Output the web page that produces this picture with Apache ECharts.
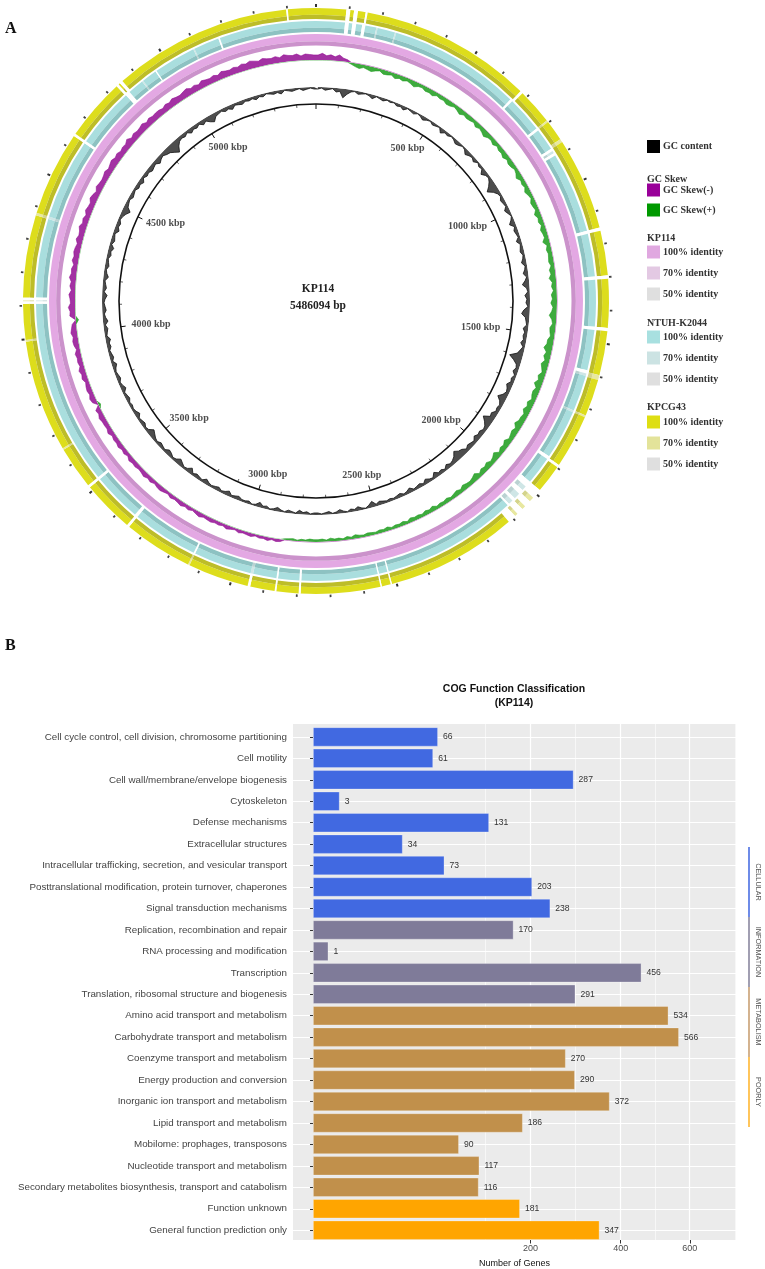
<!DOCTYPE html>
<html><head><meta charset="utf-8">
<script src="https://cdn.jsdelivr.net/npm/echarts@6/dist/echarts.min.js"></script>
<style>html,body{margin:0;padding:0;background:#fff}#c{width:765px;height:1269px}</style>
</head><body><div id="c"></div>
<script>
// ---------------- DATA ----------------
const GENOME = 5486094;
const genomeName = 'KP114';
const genomeLabel = '5486094 bp';
const kbpLabels = [500, 1000, 1500, 2000, 2500, 3000, 3500, 4000, 4500, 5000];

// GC content deviation per 1-degree window (negative = drawn inward)
const gcContent = [
 -2,-1,-3,-2,-1,-4,-3,-9,-5,-2,-1,-3,-2,-1,-2,-4,-1,-2,-3,-1,
 -2,-1,-3,-2,-4,-1,-2,-3,-1,-2,-4,-2,-1,-3,-2,-1,-5,-2,-3,-1,
 -2,-4,-3,-1,-2,-5,-3,-2,-4,-1,-3,-2,-6,-3,-2,-4,-7,-11,-6,-3,
 -2,-4,-3,-2,-5,-3,-1,-3,-6,-2,-4,-3,-2,-5,-2,-3,-4,-2,-3,-5,
 -2,-3,-5,-2,-4,-7,-3,-2,-5,-3,-4,-2,-6,-8,-4,-3,-2,-5,-3,-4,
 -3,-5,-2,-4,-6,-13,-8,-4,-3,-5,-2,-4,-3,-6,-4,-3,-5,-9,-5,-3,
 -4,-3,-6,-5,-11,-7,-4,-3,-5,-4,-6,-3,-4,-5,-3,-6,-7,-10,-6,-4,
 -3,-5,-2,-4,-3,-6,-2,-3,-5,-2,-4,-3,-2,-5,-3,-2,-4,-3,-2,-3,
 -2,-3,-4,-2,-6,-3,-1,-2,-4,-2,-3,-1,-2,-4,-2,-1,-3,-2,-1,-2,
 -2,-1,-3,-2,-4,-1,-2,-3,-1,-2,-4,-2,-1,-3,-2,-5,-2,-1,-3,-2,
 -2,-4,-3,-2,-5,-3,-2,-4,-3,-2,-3,-5,-2,-3,-4,-2,-6,-3,-2,-4,
 -6,-3,-2,-4,-5,-2,-3,-4,-2,-3,-5,-7,-3,-2,-4,-3,-2,-5,-3,-2,
 -3,-2,-4,-3,-2,-5,-3,-2,-4,-3,-2,-3,-5,-2,-4,-3,-2,-4,-3,-5,
 -2,-3,-4,-2,-5,-3,-2,-4,-3,-2,-3,-5,-2,-4,-3,-2,-5,-3,-2,-4,
 -3,-2,-4,-3,-5,-2,-4,-3,-2,-5,-3,-4,-2,-3,-5,-8,-4,-3,-2,-4,
 -3,-2,-4,-3,-5,-2,-4,-3,-5,-4,-3,-6,-4,-3,-5,-6,-9,-12,-7,-4,
 -3,-4,-2,-5,-3,-4,-2,-5,-3,-6,-8,-4,-3,-2,-4,-3,-5,-2,-3,-4,
 -2,-3,-2,-4,-2,-3,-1,-2,-3,-2,-4,-1,-2,-3,-2,-1,-3,-2,-1,-2
];
// GC skew (x100) per 1-degree window (+ green, - purple)
const gcSkew = [
 -9,-12,-8,-10,-7,-11,-6,-4,
 3,6,8,5,7,9,6,4,8,7,5,9,
 6,8,5,7,10,6,5,8,7,9,5,7,6,9,8,5,7,10,6,8,
 7,5,9,6,8,11,7,6,9,5,8,7,10,6,9,8,5,7,11,6,
 8,6,10,7,5,9,8,6,11,7,9,6,10,8,7,12,6,9,7,8,
 9,6,10,8,12,7,9,6,10,8,11,7,9,13,8,6,10,9,7,11,
 11,15,9,12,8,13,10,7,12,9,14,8,11,10,7,12,9,13,8,10,
 10,14,8,11,9,7,12,8,10,6,13,9,7,11,8,10,6,12,9,7,
 8,10,6,9,7,5,8,6,7,5,9,6,8,5,7,6,8,4,7,5,
 6,4,7,5,6,4,5,6,4,5,7,4,6,3,5,4,6,3,5,4,
 4,5,3,4,2,4,3,2,
 -4,-5,-3,-6,-4,-5,-3,-6,-5,-4,-6,-3,
 -5,-7,-4,-6,-5,-7,-6,-5,-8,-6,-4,-7,-5,-8,-6,-5,-7,-4,-6,-8,
 -7,-5,-8,-6,-9,-7,-6,-8,-7,-9,-5,-8,-6,-9,-7,-8,-6,-10,-7,-8,
 -8,-10,-7,-9,4,-8,-10,-7,-9,-8,-6,-10,-8,-11,-7,-9,-8,-10,-6,-9,
 -10,-8,-11,-9,-7,5,-10,-9,-12,-8,-9,-11,-7,-10,-8,-12,-9,-10,-7,-11,
 -9,-11,-10,-8,-12,-9,-10,-13,-9,-11,-8,-12,-10,-9,-13,-11,-8,-12,-10,-9,
 -10,-12,-9,-11,-13,-10,-12,-9,-11,-10,-14,-9,-12,-10,-11,-13,-9,-12,-10,-11,
 -11,-9,-12,-10,-13,-11,-10,-12,-14,-10,-12,-9,-13,-11,-10,-12,-9,-13,-11,-10,
 -12,-10,-13,-11,-14,-12,-10,-13,-11,-10,-12,-9,-13,-11,-10,-12,-8,-11,-10,-9
];
// BLAST ring gaps: [start kbp, length kbp, identity level (0 = no hit, 70 = partial)]
const kp114Gaps = [];
const ntuhGaps = [
 [91,12,0],[114,12,0],[145,10,0],[190,4,70],[250,4,70],[670,8,0],[792,8,0],
 [870,8,0],[878,8,70],[886,8,0],[1150,10,0],[1295,10,0],[1452,10,0],[1590,10,0],[1600,8,70],
 [1722,6,70],[1885,10,0],[1984,20,0],[2004,15,70],[2019,15,0],[2034,20,70],[2054,10,0],
 [2064,15,70],[2079,6,0],[2514,4,0],[2545,4,0],[2789,6,0],[2862,5,0],[2941,8,70],
 [3133,5,0],[3347,10,0],[3513,8,0],[4106,8,0],[4114,3,70],[4117,9,0],[4374,8,70],
 [4637,8,0],[4835,15,0],[4901,4,70],[4953,4,0],[5090,4,70],[5175,5,0]
];
const kpcg43Gaps = [
 [91,12,0],[114,12,0],[149,6,0],[675,8,0],[792,6,70],[861,10,70],[1150,10,0],
 [1295,10,0],[1452,10,0],[1595,15,70],[1722,6,70],[1890,8,0],[1984,30,0],[2014,15,70],
 [2029,20,0],[2049,12,70],[2061,20,0],[2081,10,70],[2091,25,0],[2514,4,0],[2545,4,0],
 [2789,6,0],[2862,5,0],[2941,8,0],[3133,5,70],[3347,8,0],[3513,8,0],[3650,5,70],
 [3993,5,70],[4106,8,0],[4114,3,70],[4117,8,0],[4374,8,70],[4637,8,0],[4833,8,0],
 [4846,10,0],[5397,5,0]
];

// COG panel
const cogCategories = [
 'Cell cycle control, cell division, chromosome partitioning','Cell motility',
 'Cell wall/membrane/envelope biogenesis','Cytoskeleton','Defense mechanisms',
 'Extracellular structures','Intracellular trafficking, secretion, and vesicular transport',
 'Posttranslational modification, protein turnover, chaperones','Signal transduction mechanisms',
 'Replication, recombination and repair','RNA processing and modification','Transcription',
 'Translation, ribosomal structure and biogenesis','Amino acid transport and metabolism',
 'Carbohydrate transport and metabolism','Coenzyme transport and metabolism',
 'Energy production and conversion','Inorganic ion transport and metabolism',
 'Lipid transport and metabolism','Mobilome: prophages, transposons',
 'Nucleotide transport and metabolism','Secondary metabolites biosynthesis, transport and catabolism',
 'Function unknown','General function prediction only'
];
const cogCounts = [66,61,287,3,131,34,73,203,238,170,1,456,291,534,566,270,290,372,186,90,117,116,181,347];
const cogGroups = ['CELLULAR','CELLULAR','CELLULAR','CELLULAR','CELLULAR','CELLULAR','CELLULAR','CELLULAR','CELLULAR',
 'INFORMATION','INFORMATION','INFORMATION','INFORMATION',
 'METABOLISM','METABOLISM','METABOLISM','METABOLISM','METABOLISM','METABOLISM','METABOLISM','METABOLISM','METABOLISM',
 'POORLY','POORLY'];
const groupNames = ['CELLULAR','INFORMATION','METABOLISM','POORLY'];
const xTickValues = [200, 400, 600];

// ---------------- STYLE ----------------
const groupColors = {CELLULAR:'#4169E1', INFORMATION:'#7F7B99', METABOLISM:'#C1904B', POORLY:'#FFA500'};
const stripColors = {CELLULAR:'#4A6FE3', INFORMATION:'#8A879F', METABOLISM:'#C9A074', POORLY:'#FFB733'};
const ringStyles = {
  kp114: {main:'#E3A8E3', dark:'#CB92CB', light:'#E6CCE6', lightDark:'#D4BAD4'},
  ntuh:  {main:'#A9DEDE', dark:'#8DC2C2', light:'#CFE6E6', lightDark:'#BAD2D2'},
  kpcg:  {main:'#DDDD1C', dark:'#BDBD28', light:'#E8E8A0', lightDark:'#D4D48C'}
};
const C = [316, 301];
const serif = '"Liberation Serif", "DejaVu Serif", serif';
const sans = '"Liberation Sans", Arial, sans-serif';

function ringData(gaps, full, light) {
  const g = gaps.slice().sort((a, b) => a[0] - b[0]);
  const out = []; let cur = 0;
  for (const [s, len, lvl] of g) {
    const sb = s * 1000, eb = (s + len) * 1000;
    if (sb > cur) out.push({value: sb - cur, itemStyle: {color: full}});
    out.push({value: eb - Math.max(sb, cur), itemStyle: {color: lvl === 70 ? light : '#ffffff'}});
    cur = eb;
  }
  if (cur < GENOME) out.push({value: GENOME - cur, itemStyle: {color: full}});
  return out;
}
const pieBase = {type:'pie', center:C, startAngle:90, clockwise:true, silent:true, animation:false,
  avoidLabelOverlap:false, minAngle:0, label:{show:false}, labelLine:{show:false},
  emphasis:{disabled:true}, selectedMode:false, itemStyle:{borderWidth:0}};
function ringSeries(gaps, r0, r1, st) {
  const mid = r0 + (r1 - r0) * 0.38;
  return [
    Object.assign({}, pieBase, {radius:[mid, r1], data: ringData(gaps, st.main, st.light)}),
    Object.assign({}, pieBase, {radius:[r0, mid], data: ringData(gaps, st.dark, st.lightDark)})
  ];
}

// label placement measure
const mctx = document.createElement('canvas').getContext('2d');
mctx.font = 'bold 10px ' + serif;
const kbpLabelData = kbpLabels.map(k => {
  const txt = k + ' kbp';
  const w = mctx.measureText(txt).width, h = 10;
  const th = k * 1000 / GENOME * 2 * Math.PI;
  return {name: txt, value: [186, k * 1000],
    label: {offset: [-0.5 * Math.sin(th) * w, 0.5 * Math.cos(th) * h]}};
});

// window series: magnitude away from the ring baseline
function windowSeries(arr, pick) {
  const step = GENOME / arr.length;
  const pts = arr.map((v, i) => [pick(v), (i + 0.5) * step]);
  pts.push([pts[0][0], GENOME + 0.5 * step]);
  return pts;
}
const gcData  = windowSeries(gcContent, v => -v);            // inward
const skewNeg = windowSeries(gcSkew, v => v < 0 ? -v : 0);    // outward purple
const skewPos = windowSeries(gcSkew, v => v > 0 ? v : 0);     // inward green

// sqrt axis helpers for COG panel
const sq = v => Math.sqrt(v);
const majors = xTickValues.map(sq);
const d0 = majors[1] - majors[0];
const ext = [majors[0] - d0].concat(majors, [majors[majors.length - 1] + d0]);
const minors = [];
for (let i = 0; i < ext.length - 1; i++) minors.push((ext[i] + ext[i + 1]) / 2);
const XMIN = -1.3, XMAX = 27.5;

// ---------------- GRAPHICS (labels / legends) ----------------
const graphics = [];
graphics.push({type:'text', left:5, top:21, style:{text:'A', font:'bold 16px ' + serif, fill:'#111'}});
graphics.push({type:'text', left:5, top:638, style:{text:'B', font:'bold 16px ' + serif, fill:'#111'}});
graphics.push({type:'text', x:318, y:289, style:{text:genomeName, font:'bold 11.5px ' + serif, fill:'#222', textAlign:'center', textVerticalAlign:'middle'}});
graphics.push({type:'text', x:318, y:306, style:{text:genomeLabel, font:'bold 11.5px ' + serif, fill:'#222', textAlign:'center', textVerticalAlign:'middle'}});
const legendRows = [
  ['item','GC content','#000000',146.5],
  ['head','GC Skew',null,179],
  ['item','GC Skew(-)','#990099',190],
  ['item','GC Skew(+)','#009900',210],
  ['head','KP114',null,238],
  ['item','100% identity','#E0A8E0',252],
  ['item','70% identity','#E3C9E3',273],
  ['item','50% identity','#DFDFDF',294],
  ['head','NTUH-K2044',null,323],
  ['item','100% identity','#A8E0E0',337],
  ['item','70% identity','#CCE3E3',358],
  ['item','50% identity','#DFDFDF',379],
  ['head','KPCG43',null,407],
  ['item','100% identity','#DEDE12',422],
  ['item','70% identity','#E3E39A',443],
  ['item','50% identity','#DFDFDF',464]
];
legendRows.forEach(([t, txt, col, y]) => {
  if (t === 'item') {
    graphics.push({type:'rect', shape:{x:647, y:y - 6.5, width:13, height:13}, style:{fill:col}});
    graphics.push({type:'text', x:663, y:y, style:{text:txt, font:'bold 10px ' + serif, fill:'#333', textVerticalAlign:'middle'}});
  } else {
    graphics.push({type:'text', x:647, y:y, style:{text:txt, font:'bold 10px ' + serif, fill:'#333', textVerticalAlign:'middle'}});
  }
});
graphics.push({type:'text', x:514, y:689, style:{text:'COG Function Classification', font:'bold 10.5px ' + sans, fill:'#111', textAlign:'center', textVerticalAlign:'middle'}});
graphics.push({type:'text', x:514, y:703, style:{text:'(' + genomeName + ')', font:'bold 10.5px ' + sans, fill:'#111', textAlign:'center', textVerticalAlign:'middle'}});
groupNames.forEach((g, i) => {
  const y0 = 847 + i * 70;
  graphics.push({type:'line', shape:{x1:749, y1:y0, x2:749, y2:y0 + 70}, style:{stroke:stripColors[g], lineWidth:1.6}});
  graphics.push({type:'text', x:758, y:y0 + 35, rotation:-Math.PI / 2,
    style:{text:g, font:'7.3px ' + sans, fill:'#555', textAlign:'center', textVerticalAlign:'middle'}});
});

// ---------------- OPTION ----------------
const hidAng = {type:'value', min:0, max:GENOME, startAngle:90, clockwise:true, show:false};
const option = {
  animation: false,
  backgroundColor: '#ffffff',
  polar: [
    {center: C, radius: 197},
    {center: C, radius: 294},
    {center: C, radius: [199, 214]},   // GC content (inward from 214)
    {center: C, radius: [241, 255]},   // GC skew (-) outward from 241
    {center: C, radius: [227, 241]}    // GC skew (+) inward from 241
  ],
  angleAxis: [
    {polarIndex:0, type:'value', min:0, max:GENOME, interval:500000, startAngle:90, clockwise:true,
     axisLine:{show:true, lineStyle:{color:'#111', width:1.6}},
     axisTick:{show:true, inside:true, length:5, lineStyle:{color:'#111', width:1}},
     minorTick:{show:true, splitNumber:5, length:3, lineStyle:{color:'#333', width:0.8}},
     axisLabel:{show:false}, splitLine:{show:false}, minorSplitLine:{show:false}},
    {polarIndex:1, type:'value', min:0, max:GENOME, interval:500000, startAngle:90, clockwise:true,
     axisLine:{show:false},
     axisTick:{show:true, length:3, lineStyle:{color:'#333', width:2}},
     minorTick:{show:true, splitNumber:5, length:2.5, lineStyle:{color:'#444', width:1.8}},
     axisLabel:{show:false}, splitLine:{show:false}, minorSplitLine:{show:false}},
    Object.assign({polarIndex:2}, hidAng),
    Object.assign({polarIndex:3}, hidAng),
    Object.assign({polarIndex:4}, hidAng)
  ],
  radiusAxis: [
    {polarIndex:0, type:'value', min:0, max:197, show:false},
    {polarIndex:1, type:'value', min:0, max:294, show:false},
    {polarIndex:2, type:'value', min:0, max:15, inverse:true, show:false},
    {polarIndex:3, type:'value', min:0, max:25, show:false},
    {polarIndex:4, type:'value', min:0, max:25, inverse:true, show:false}
  ],
  grid: [
    {left:293, top:724, width:443, height:519, show:true, backgroundColor:'#EBEBEB', borderWidth:0},
    {left:293, top:736.9, width:443, height:493.3, show:false}
  ],
  xAxis: [
    {gridIndex:0, type:'value', min:XMIN, max:XMAX, axisLine:{show:false}, splitLine:{show:false},
     axisTick:{show:true, customValues: majors, length:3.5, lineStyle:{color:'#333'}},
     axisLabel:{show:true, customValues: majors, formatter: v => String(Math.round(v * v)), fontSize:9, color:'#4D4D4D', margin:4, fontFamily: sans},
     name:'Number of Genes', nameLocation:'middle', nameGap:19, nameTextStyle:{fontSize:9, color:'#111', fontFamily: sans}},
    {gridIndex:1, type:'value', min:XMIN, max:XMAX, show:false, splitLine:{show:false}}
  ],
  yAxis: [
    {gridIndex:0, type:'value', min:0, max:1, show:false, splitLine:{show:false}},
    {gridIndex:1, type:'category', data: cogCategories, inverse:true, boundaryGap:false,
     axisLine:{show:false},
     axisTick:{show:true, length:3, interval:0, lineStyle:{color:'#333'}},
     axisLabel:{fontSize:9.8, color:'#444', margin:6, interval:0, fontFamily: sans},
     splitLine:{show:true, interval:0, lineStyle:{color:'#ffffff', width:1}}}
  ],
  graphic: graphics,
  series: [
    ...ringSeries(kpcg43Gaps, 282, 293, ringStyles.kpcg),
    ...ringSeries(ntuhGaps, 269, 280, ringStyles.ntuh),
    ...ringSeries(kp114Gaps, 255.5, 267, ringStyles.kp114),
    {type:'line', coordinateSystem:'polar', polarIndex:3, data: skewNeg, symbol:'none', clip:false, silent:true,
     lineStyle:{color:'#930E93', width:0.6}, areaStyle:{color:'#930E93', opacity:0.85}},
    {type:'line', coordinateSystem:'polar', polarIndex:4, data: skewPos, symbol:'none', clip:false, silent:true,
     lineStyle:{color:'#1C9C1C', width:0.6}, areaStyle:{color:'#1C9C1C', opacity:0.85}},
    {type:'line', coordinateSystem:'polar', polarIndex:2, data: gcData, symbol:'none', clip:false, silent:true,
     lineStyle:{color:'#111', width:0.8}, areaStyle:{color:'#111', opacity:0.75}},
    {type:'scatter', coordinateSystem:'polar', polarIndex:0, data: kbpLabelData, symbolSize:0, silent:true,
     label:{show:true, position:'inside', formatter:'{b}', align:'center', verticalAlign:'middle',
       fontFamily: serif, fontWeight:'bold', fontSize:10, color:'#222'}},
    {type:'line', xAxisIndex:0, yAxisIndex:0, data:[], silent:true, z:1,
     markLine:{silent:true, symbol:'none', animation:false, z:1, label:{show:false},
       data: majors.map(v => ({xAxis:v, lineStyle:{color:'#ffffff', width:1.2, type:'solid'}}))
         .concat(minors.filter(v => v > XMIN && v < XMAX).map(v => ({xAxis:v, lineStyle:{color:'#ffffff', width:0.6, type:'solid'}})))}},
    {type:'bar', xAxisIndex:1, yAxisIndex:1, z:10, barWidth:'90%',
     data: cogCounts.map((c, i) => ({value: sq(c), itemStyle:{color: groupColors[cogGroups[i]]}})),
     itemStyle:{borderColor:'rgba(255,255,255,0.35)', borderWidth:0.8},
     label:{show:true, position:'right', distance:5, formatter: p => String(cogCounts[p.dataIndex]),
       fontSize:8.6, color:'#333', fontFamily: sans}}
  ]
};
const chart = echarts.init(document.getElementById('c'));
chart.setOption(option);
</script>
</body></html>
